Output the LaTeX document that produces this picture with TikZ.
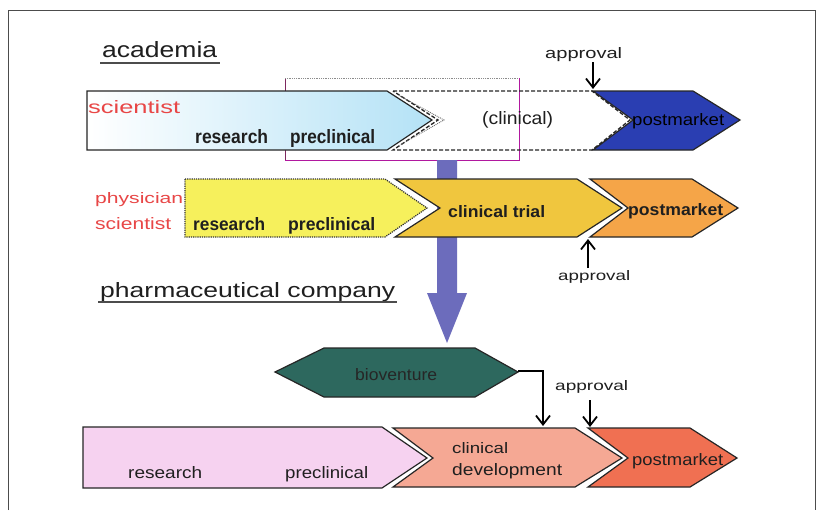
\documentclass[tikz,border=0pt]{standalone}
\usepackage{graphicx}
\usepackage{fontspec}
\setmainfont{Liberation Sans}
\usetikzlibrary{arrows.meta}
\definecolor{pmblue}{RGB}{42,62,178}
\definecolor{ylight}{RGB}{246,240,92}
\definecolor{ygold}{RGB}{240,198,62}
\definecolor{orng}{RGB}{245,165,72}
\definecolor{pinkl}{RGB}{246,210,240}
\definecolor{salmon}{RGB}{245,168,148}
\definecolor{redor}{RGB}{240,112,82}
\definecolor{teal}{RGB}{45,104,94}
\definecolor{slate}{RGB}{108,108,188}
\definecolor{redtxt}{RGB}{232,70,70}
\definecolor{purp}{RGB}{125,40,95}
\definecolor{skyb}{RGB}{180,226,246}
\newcommand{\rs}[3]{\resizebox{#1pt}{#2pt}{#3}}
\tikzset{
  chev/.style={draw=black!85, line width=1.2pt, line join=miter},
  lbl/.style={anchor=base west, inner sep=0pt, text=black!88},
  redlbl/.style={anchor=base west, inner sep=0pt, text=redtxt},
  apparrow/.style={draw=black, line width=1.6pt, -{Straight Barb[length=9pt,width=14pt,line width=1.8pt]}},
  undl/.style={draw=black!70, line width=1.4pt}
}
\begin{document}
\begin{tikzpicture}[x=1pt,y=-1pt]
\useasboundingbox (0,0) rectangle (819,512);
\fill[white] (0,0) rectangle (819,512);
% frame
\draw[black!70, line width=0.9pt] (8,510) -- (8,10) -- (815,10) -- (815,510);

% headings
\node[lbl] (acad) at (102,57) {\rs{115}{16}{academia}};
\draw[undl] (100,63) -- (220,63);
\node[lbl] (pharma) at (100,297) {\rs{295}{15}{pharmaceutical company}};
\draw[undl] (98,302) -- (397,302);

% purple overlay rectangle
\draw[purp, line width=1pt] (285,160) -- (285,78);
\draw[black!45, line width=0.8pt, densely dotted] (285,78) -- (519,78);
\draw[purp!60!magenta, line width=1pt] (519,78) -- (519,160) -- (285,160);

% big vertical arrow (behind rows)
\fill[slate] (437,160) -- (457,160) -- (457,293) -- (467,293) -- (447,343) -- (427,293) -- (437,293) -- cycle;

% ---- row 1: academia
\path[chev, left color=white, right color=skyb] (87,91) -- (387,91) -- (432,120) -- (387,150) -- (87,150) -- cycle;
\draw[black!85, line width=1.3pt, dash pattern=on 4pt off 2pt] (393,91) -- (592,91) -- (630,120) -- (592,150) -- (393,150) -- (438,120) -- cycle;
\draw[black!60, line width=0.9pt, densely dotted] (400,96) -- (444,120) -- (400,145);
\path[chev, fill=pmblue] (593,91) -- (693,91) -- (740,120) -- (693,150) -- (593,150) -- (633,120) -- cycle;
\node[redlbl] (sci1) at (88,113) {\rs{92}{13}{scientist}};
\node[lbl] (res1) at (195,143) {\rs{73}{14}{\bfseries research}};
\node[lbl] (pre1) at (290,143) {\rs{85}{14}{\bfseries preclinical}};
\node[lbl] (clin1) at (482,124) {\rs{71}{13}{(clinical)}};
\node[lbl, text=black] (pm1) at (632,125) {\rs{92}{12}{postmarket}};
\node[lbl] (app1) at (545,58) {\rs{77}{11}{approval}};
\coordinate (a1s) at (593,62);
\coordinate (a1e) at (593,89);
\draw[apparrow] (a1s) -- (a1e);

% ---- row 2: physician scientist
\path[draw=black!80, line width=1.2pt, densely dotted, fill=ylight] (185,179) -- (385,179) -- (427,208) -- (385,237) -- (185,237) -- cycle;
\path[chev, fill=ygold] (395,179) -- (577,179) -- (622,208) -- (577,237) -- (395,237) -- (440,208) -- cycle;
\path[chev, fill=orng] (590,179) -- (692,179) -- (738,208) -- (692,237) -- (590,237) -- (628,208) -- cycle;
\node[redlbl] (phys) at (95,203) {\rs{88}{11}{physician}};
\node[redlbl] (sci2) at (95,229) {\rs{76}{12}{scientist}};
\node[lbl] (res2) at (193,230) {\rs{72}{13}{\bfseries research}};
\node[lbl] (pre2) at (288,230) {\rs{87}{13}{\bfseries preclinical}};
\node[lbl] (ctrial) at (448,217) {\rs{97}{12}{\bfseries clinical trial}};
\node[lbl] (pm2) at (628,215) {\rs{95}{12}{\bfseries postmarket}};
\node[lbl] (app2) at (558,280) {\rs{72}{10}{approval}};
\coordinate (a2s) at (588,268);
\coordinate (a2e) at (588,239);
\draw[apparrow] (a2s) -- (a2e);

% ---- bioventure
\path[chev, fill=teal] (275,372) -- (324,348) -- (475,348) -- (518,372) -- (475,397) -- (324,397) -- cycle;
\node[lbl, text=black!85] (bio) at (355,380) {\rs{82}{12}{bioventure}};
\coordinate (bioR) at (518,371);
\coordinate (cdTop) at (543,426);
\draw[apparrow, line width=1.3pt] (bioR) -| (cdTop);

% ---- row 3: pharmaceutical company
\path[chev, fill=pinkl] (83,427) -- (382,427) -- (427,458) -- (382,488) -- (83,488) -- cycle;
\path[chev, fill=salmon] (393,428) -- (575,428) -- (622,458) -- (575,487) -- (393,487) -- (433,458) -- cycle;
\path[chev, fill=redor] (588,428) -- (690,428) -- (737,458) -- (690,487) -- (588,487) -- (628,458) -- cycle;
\node[lbl] (res3) at (128,478) {\rs{74}{12}{research}};
\node[lbl] (pre3) at (285,478) {\rs{83}{12}{preclinical}};
\node[lbl] (cd1) at (452,453) {\rs{56}{11}{clinical}};
\node[lbl] (cd2) at (452,475) {\rs{110}{12}{development}};
\node[lbl] (pm3) at (632,465) {\rs{91}{12}{postmarket}};
\node[lbl] (app3) at (555,390) {\rs{73}{10}{approval}};
\coordinate (a3s) at (590,400);
\coordinate (a3e) at (590,427);
\draw[apparrow] (a3s) -- (a3e);
\end{tikzpicture}
\end{document}
